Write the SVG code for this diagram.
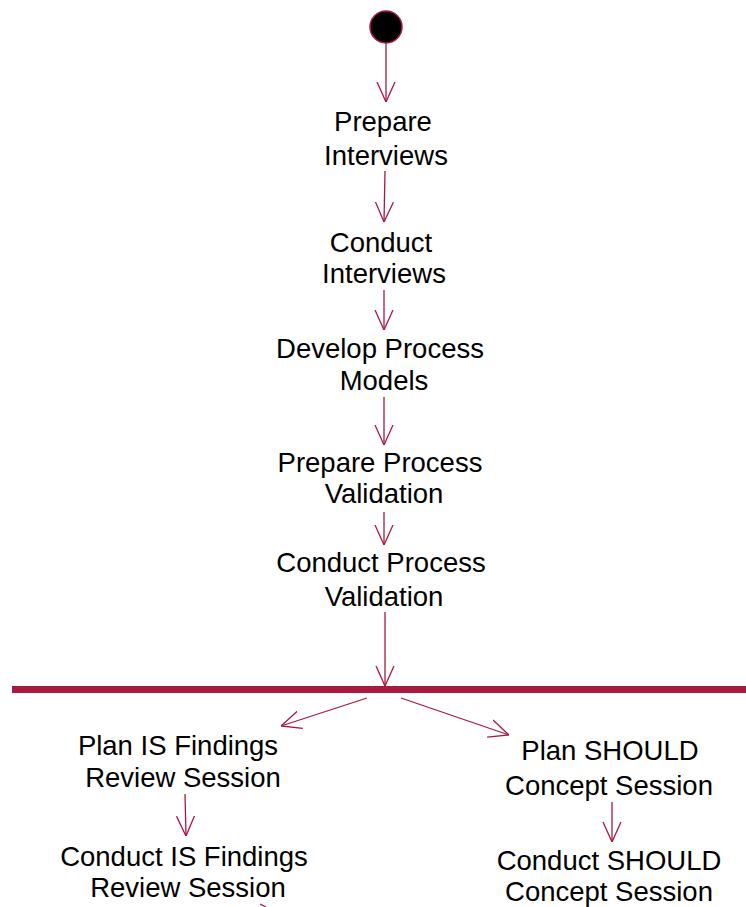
<svg xmlns="http://www.w3.org/2000/svg" width="746" height="907" viewBox="0 0 746 907">
  <style>
    .lbl { font-family: "Liberation Sans", Arial, sans-serif; font-size: 27.5px; fill: #000; text-anchor: middle; }
    .flow { stroke: #a8193f; stroke-width: 1.3; fill: none; }
  </style>
  <defs>
    <marker id="open" viewBox="0 0 20 20" markerWidth="20" markerHeight="20" refX="20" refY="10" orient="auto" markerUnits="userSpaceOnUse">
      <path d="M0,1 L20,10 L0,19" fill="none" stroke="#a8193f" stroke-width="1.3"/>
    </marker>
  </defs>
  <rect width="746" height="907" fill="#fff"/>

  <g id="start">
    <circle cx="386" cy="27" r="16" fill="#000" stroke="#a8193f" stroke-width="1.5"/>
  </g>

  <g id="fork">
    <rect x="12" y="686" width="734" height="7" fill="#a81a40"/>
  </g>

  <g id="prepare-interviews">
    <text class="lbl" x="383" y="131">Prepare</text>
    <text class="lbl" x="386" y="165">Interviews</text>
  </g>
  <g id="conduct-interviews">
    <text class="lbl" x="381" y="252">Conduct</text>
    <text class="lbl" x="384" y="283">Interviews</text>
  </g>
  <g id="develop-models">
    <text class="lbl" x="380" y="358">Develop Process</text>
    <text class="lbl" x="384" y="390">Models</text>
  </g>
  <g id="prepare-validation">
    <text class="lbl" x="380" y="472">Prepare Process</text>
    <text class="lbl" x="384" y="503">Validation</text>
  </g>
  <g id="conduct-validation">
    <text class="lbl" x="381" y="572">Conduct Process</text>
    <text class="lbl" x="384" y="606">Validation</text>
  </g>
  <g id="plan-is">
    <text class="lbl" x="178" y="755">Plan IS Findings</text>
    <text class="lbl" x="183" y="787">Review Session</text>
  </g>
  <g id="conduct-is">
    <text class="lbl" x="184" y="866">Conduct IS Findings</text>
    <text class="lbl" x="188" y="897">Review Session</text>
  </g>
  <g id="plan-should">
    <text class="lbl" x="610" y="760">Plan SHOULD</text>
    <text class="lbl" x="609" y="795">Concept Session</text>
  </g>
  <g id="conduct-should">
    <text class="lbl" x="609" y="870">Conduct SHOULD</text>
    <text class="lbl" x="609" y="901">Concept Session</text>
  </g>

  <g id="connectors">
    <line class="flow" x1="386" y1="43" x2="386" y2="102" marker-end="url(#open)"/>
    <line class="flow" x1="385" y1="171" x2="384" y2="222" marker-end="url(#open)"/>
    <line class="flow" x1="384" y1="290" x2="384" y2="330" marker-end="url(#open)"/>
    <line class="flow" x1="384" y1="397" x2="384" y2="445" marker-end="url(#open)"/>
    <line class="flow" x1="384" y1="512" x2="384" y2="545" marker-end="url(#open)"/>
    <line class="flow" x1="385" y1="612" x2="385" y2="686" marker-end="url(#open)"/>
    <line class="flow" x1="367" y1="698" x2="281" y2="726" marker-end="url(#open)"/>
    <line class="flow" x1="401" y1="698" x2="509" y2="735" marker-end="url(#open)"/>
    <line class="flow" x1="185" y1="794" x2="186" y2="836" marker-end="url(#open)"/>
    <line class="flow" x1="612" y1="802" x2="612" y2="842" marker-end="url(#open)"/>
    <line class="flow" x1="260" y1="904" x2="266" y2="907"/>
  </g>
</svg>
